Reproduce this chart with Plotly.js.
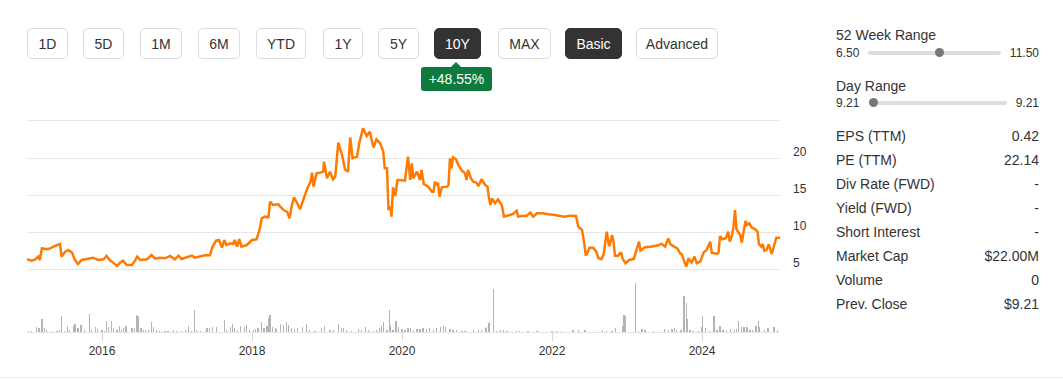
<!DOCTYPE html>
<html>
<head>
<meta charset="utf-8">
<script src="https://cdn.plot.ly/plotly-3.0.1.min.js"></script>
<style>
  html, body { margin:0; padding:0; background:#fff; width:1063px; height:379px; overflow:hidden;
    font-family: "Liberation Sans", Arial, sans-serif; color:#333; }
  #chart { position:absolute; left:0; top:0; width:830px; height:379px; }
  .btn { position:absolute; top:28px; height:31px; border:1px solid #dcdcdc; border-radius:5px;
    box-sizing:border-box; font-size:14px; line-height:31px; text-align:center; color:#333; background:#fff; }
  .btn.on { background:#333; border-color:#333; color:#fff; }
  .badge { position:absolute; left:421px; top:67px; width:71px; height:24px; background:#0d7a3e; color:#fff;
    border-radius:3px; font-size:14px; line-height:24px; text-align:center; }
  .badge:before { content:""; position:absolute; left:30px; top:-5px; border-left:5px solid transparent;
    border-right:5px solid transparent; border-bottom:5px solid #0d7a3e; }
  .lbl { position:absolute; left:836px; font-size:14px; line-height:16px; color:#333; white-space:nowrap; }
  .val { position:absolute; right:24px; font-size:14px; line-height:16px; color:#333; text-align:right; white-space:nowrap; }
  .small { position:absolute; font-size:12px; line-height:14px; color:#333; white-space:nowrap; }
  .track { position:absolute; height:4px; background:#dddddd; border-radius:2px; }
  .knob { position:absolute; width:9px; height:9px; border-radius:50%; background:#777; }
  .bottomline { position:absolute; left:0; top:377px; width:1063px; height:1px; background:#eeeeee; }
</style>
</head>
<body>
<div id="chart"></div>
<div id="buttons"></div>
<div class="badge">+48.55%</div>
<div id="panel"></div>
<div class="bottomline"></div>
<script>
// ---- data ----
const rangeButtons = ["1D","5D","1M","6M","YTD","1Y","5Y","10Y","MAX","Basic","Advanced"];
const activeButtons = ["10Y","Basic"];
const yearTicks = [2016, 2018, 2020, 2022, 2024];
const priceTicks = [5, 10, 15, 20, 25];
const priceTickText = ["5", "10", "15", "20", ""];

const priceYears = [
2015.00,2015.06,2015.11,2015.15,2015.17,2015.20,2015.26,2015.31,2015.35,2015.42,2015.44,2015.46,2015.51,2015.55,2015.60,2015.64,2015.68,2015.73,2015.80,2015.88,2015.95,
2016.02,2016.06,2016.11,2016.15,2016.20,2016.24,2016.28,2016.33,2016.40,2016.44,2016.47,2016.51,2016.60,2016.66,2016.71,2016.77,2016.84,2016.91,2016.97,
2017.02,2017.06,2017.13,2017.20,2017.24,2017.31,2017.37,2017.44,2017.47,2017.52,2017.56,2017.60,2017.63,2017.66,2017.71,2017.75,2017.77,2017.80,2017.83,2017.86,2017.93,
2018.00,2018.06,2018.10,2018.13,2018.17,2018.22,2018.24,2018.28,2018.35,2018.42,2018.47,2018.50,2018.53,2018.56,2018.60,2018.64,2018.68,2018.73,2018.78,2018.80,2018.82,2018.86,2018.91,2018.95,2018.96,
2019.00,2019.04,2019.08,2019.11,2019.15,2019.20,2019.24,2019.28,2019.31,2019.34,2019.40,2019.43,2019.48,2019.53,2019.57,2019.62,2019.66,2019.71,2019.75,2019.77,2019.80,2019.82,2019.85,2019.86,2019.88,2019.91,2019.94,2019.97,
2020.04,2020.08,2020.11,2020.13,2020.15,2020.20,2020.24,2020.26,2020.29,2020.35,2020.40,2020.42,2020.44,2020.47,2020.48,2020.50,2020.53,2020.60,2020.62,2020.64,2020.66,2020.68,2020.72,2020.75,2020.80,2020.84,2020.86,2020.88,2020.92,2020.95,2020.99,
2021.02,2021.06,2021.11,2021.14,2021.16,2021.18,2021.20,2021.24,2021.28,2021.33,2021.36,2021.42,2021.48,2021.53,2021.55,2021.60,2021.66,2021.71,2021.75,2021.80,2021.88,2021.95,
2022.02,2022.11,2022.17,2022.24,2022.32,2022.35,2022.40,2022.43,2022.45,2022.47,2022.50,2022.55,2022.59,2022.62,2022.66,2022.69,2022.73,2022.76,2022.77,2022.80,2022.82,2022.84,2022.88,2022.92,2022.94,2022.98,
2023.03,2023.09,2023.13,2023.16,2023.18,2023.24,2023.31,2023.37,2023.42,2023.46,2023.51,2023.55,2023.58,2023.63,2023.67,2023.71,2023.73,2023.76,2023.79,2023.82,2023.86,2023.90,2023.93,2023.98,
2024.02,2024.06,2024.11,2024.13,2024.20,2024.22,2024.24,2024.27,2024.32,2024.35,2024.37,2024.40,2024.42,2024.44,2024.46,2024.51,2024.53,2024.55,2024.58,2024.60,2024.63,2024.66,2024.71,2024.74,2024.76,2024.79,2024.81,2024.83,2024.86,2024.89,2024.91,2024.93,2024.96,2024.99,2025.04
];
const priceValues = [
6.31,6.13,6.31,6.67,6.22,7.79,7.66,7.79,8.02,8.24,8.38,6.67,7.34,7.57,7.21,6.22,5.68,6.22,6.35,6.53,6.22,
6.31,6.76,6.13,5.86,5.41,5.86,6.13,5.54,5.54,6.13,6.67,6.22,6.31,6.89,6.40,6.53,6.44,6.76,6.31,
6.80,6.35,6.58,6.80,6.53,6.76,6.85,6.85,7.93,8.83,8.92,7.88,8.92,8.24,8.47,8.38,8.92,8.02,9.05,8.02,8.24,
8.92,9.01,10.27,11.85,12.07,11.98,14.10,13.65,13.74,12.97,12.70,11.85,13.51,14.68,13.96,13.06,14.23,15.68,16.80,18.02,16.13,17.93,18.02,18.15,19.50,
17.25,18.15,17.12,17.48,22.07,20.41,18.47,18.15,22.79,19.95,20.18,21.98,24.01,22.97,23.56,21.44,22.52,21.98,20.86,18.60,18.60,12.97,13.42,12.07,16.04,14.86,17.03,17.03,
16.94,20.18,17.03,19.28,17.25,18.15,17.03,18.38,16.49,16.13,15.45,15.45,16.80,16.35,16.67,14.77,16.04,16.13,16.35,19.95,18.60,20.09,19.82,19.05,18.29,17.93,17.03,18.38,17.25,16.80,16.67,
16.22,17.12,16.35,16.13,14.55,13.65,14.55,13.87,14.41,13.65,12.07,12.30,12.43,12.88,12.07,12.16,12.16,12.61,12.07,12.52,12.52,12.39,
12.34,12.16,12.07,12.21,12.16,10.72,10.27,8.47,6.80,7.12,7.88,7.88,7.34,6.44,6.31,7.03,10.05,8.11,8.24,9.59,8.69,6.80,6.80,7.25,6.44,5.77,
6.22,6.35,7.57,8.69,7.48,7.93,8.02,8.15,8.20,8.42,8.02,9.14,8.33,8.02,7.79,7.12,6.98,6.13,5.32,6.44,5.86,6.67,5.77,6.04,
7.21,7.57,8.69,7.21,7.03,7.21,9.46,9.01,9.19,10.05,8.69,9.59,10.72,12.97,10.36,9.59,8.56,9.73,11.49,10.95,11.17,10.63,10.36,10.05,8.38,8.02,8.38,7.48,7.57,8.33,7.57,7.03,8.11,9.23,9.23
];

const volumeYears = [
2015.02,2015.06,2015.13,2015.16,2015.20,2015.23,2015.26,2015.33,2015.40,2015.43,2015.46,2015.50,2015.54,2015.57,2015.62,2015.64,2015.68,2015.71,2015.73,2015.77,2015.83,2015.86,2015.91,2015.94,
2016.00,2016.03,2016.06,2016.09,2016.13,2016.15,2016.20,2016.23,2016.26,2016.29,2016.32,2016.40,2016.43,2016.46,2016.48,2016.52,2016.55,2016.58,2016.62,2016.66,2016.69,2016.73,2016.77,2016.84,2016.88,2016.95,2016.99,
2017.06,2017.11,2017.15,2017.19,2017.23,2017.26,2017.31,2017.40,2017.43,2017.47,2017.53,2017.63,2017.66,2017.71,2017.74,2017.77,2017.81,2017.85,2017.90,2017.93,2017.97,
2018.02,2018.05,2018.08,2018.13,2018.16,2018.20,2018.22,2018.24,2018.27,2018.31,2018.33,2018.38,2018.42,2018.46,2018.49,2018.53,2018.57,2018.61,2018.67,2018.73,2018.77,2018.84,2018.93,2018.97,
2019.04,2019.09,2019.15,2019.19,2019.22,2019.26,2019.33,2019.42,2019.46,2019.51,2019.55,2019.62,2019.66,2019.70,2019.73,2019.75,2019.80,2019.83,2019.85,2019.88,2019.92,2019.95,
2020.00,2020.04,2020.08,2020.11,2020.15,2020.20,2020.24,2020.28,2020.33,2020.37,2020.42,2020.46,2020.51,2020.55,2020.58,2020.64,2020.68,2020.73,2020.80,2020.84,2020.95,
2021.02,2021.06,2021.11,2021.13,2021.15,2021.17,2021.22,2021.26,2021.31,2021.35,2021.40,2021.53,2021.57,2021.68,2021.80,
2022.00,2022.06,2022.13,2022.28,2022.35,2022.44,2022.67,2022.73,2022.80,2022.85,2022.94,2022.96,2022.98,
2023.11,2023.15,2023.20,2023.24,2023.35,2023.50,2023.55,2023.60,2023.63,2023.66,2023.72,2023.76,2023.79,2023.81,2023.84,2023.88,2023.95,2023.99,
2024.01,2024.05,2024.10,2024.16,2024.20,2024.24,2024.28,2024.33,2024.38,2024.43,2024.46,2024.49,2024.53,2024.56,2024.60,2024.64,2024.67,2024.72,2024.75,2024.77,2024.83,2024.88,2024.96,2025.01
];
const volumeValues = [
1.3,1.3,4.7,4.0,13.0,4.0,2.3,1.3,1.3,2.3,15.7,1.3,5.7,2.3,5.7,8.0,4.0,7.3,7.3,2.3,18.3,2.3,4.7,3.3,
2.3,1.3,11.3,4.7,11.3,4.0,2.3,5.7,2.3,4.0,5.7,4.0,4.0,16.7,16.3,4.0,2.3,2.3,2.3,9.7,4.7,2.3,1.3,1.3,1.3,2.3,1.3,
1.3,2.3,5.7,1.3,21.7,2.3,1.3,4.0,4.0,4.7,4.7,11.7,2.3,4.7,8.0,4.0,2.3,5.7,4.7,6.7,2.3,
2.3,3.3,4.0,9.7,4.0,5.7,14.0,16.7,4.7,4.0,3.3,8.0,6.7,9.7,7.3,4.0,3.3,4.0,4.7,8.0,2.3,1.3,4.0,5.7,
2.3,2.3,8.0,4.0,4.0,2.3,1.3,3.0,2.3,4.7,2.3,1.3,2.3,4.0,5.7,9.7,2.3,21.7,6.7,2.3,10.7,4.7,
3.3,2.3,4.0,4.0,2.3,3.3,3.3,4.0,3.3,4.0,2.3,4.0,4.7,5.7,4.7,3.0,2.3,2.0,1.3,1.3,1.7,
2.3,2.3,4.0,5.0,9.0,10.0,43.0,1.3,2.3,2.0,1.3,1.0,1.0,1.0,1.0,
1.0,1.0,1.0,2.0,1.7,2.0,1.7,1.3,1.3,4.0,5.7,17.3,15.7,
49.0,1.3,3.3,1.7,1.3,3.3,2.3,3.3,4.0,2.3,2.3,35.7,29.0,13.0,2.3,1.3,1.3,4.7,
15.7,4.0,1.3,15.7,2.3,5.7,2.3,1.3,3.3,2.3,3.3,10.7,4.7,4.7,4.7,2.3,2.3,5.7,10.7,4.7,2.3,4.0,4.7,2.3
];

const panelRows = [
  ["EPS (TTM)", "0.42"], ["PE (TTM)", "22.14"], ["Div Rate (FWD)", "-"], ["Yield (FWD)", "-"],
  ["Short Interest", "-"], ["Market Cap", "$22.00M"], ["Volume", "0"], ["Prev. Close", "$9.21"]
];

// ---- HTML controls ----
const btnLeft = [27, 83, 140, 198, 256, 323, 378, 434, 498, 565, 636];
const btnWidth = [41, 41, 42, 42, 50, 40, 41, 47, 53, 57, 82];
const bwrap = document.getElementById('buttons');
rangeButtons.forEach((t, i) => {
  const d = document.createElement('div');
  d.className = 'btn' + (activeButtons.includes(t) ? ' on' : '');
  d.style.left = btnLeft[i] + 'px';
  d.style.width = btnWidth[i] + 'px';
  d.textContent = t;
  bwrap.appendChild(d);
});

const panel = document.getElementById('panel');
function add(cls, text, style) {
  const d = document.createElement('div');
  d.className = cls; d.textContent = text || '';
  Object.assign(d.style, style); panel.appendChild(d); return d;
}
add('lbl', '52 Week Range', {top:'27px'});
add('small', '6.50', {left:'836px', top:'46px'});
add('track', '', {left:'868px', top:'51px', width:'133px'});
add('knob', '', {left:'935px', top:'48px'});
add('small', '11.50', {right:'24px', top:'46px', textAlign:'right'});
add('lbl', 'Day Range', {top:'78px'});
add('small', '9.21', {left:'836px', top:'96px'});
add('track', '', {left:'870px', top:'101px', width:'137px'});
add('knob', '', {left:'869px', top:'98px'});
add('small', '9.21', {right:'24px', top:'96px', textAlign:'right'});
panelRows.forEach((r, i) => {
  const top = (128 + i * 24) + 'px';
  add('lbl', r[0], {top});
  add('val', r[1], {top});
});

// ---- Plotly chart ----
const traces = [
  { type:'bar', x: volumeYears, y: volumeValues, yaxis:'y2', width:0.018,
    marker:{color:'#b4b4b4', line:{width:0}}, hoverinfo:'skip' },
  { type:'scatter', mode:'lines', x: priceYears, y: priceValues, yaxis:'y',
    line:{color:'#ff7a00', width:2.5}, hoverinfo:'skip' }
];
const layout = {
  width:830, height:379,
  margin:{l:27, r:50, t:115, b:47},
  paper_bgcolor:'rgba(0,0,0,0)', plot_bgcolor:'rgba(0,0,0,0)',
  showlegend:false, bargap:0,
  font:{family:'"Liberation Sans", Arial, sans-serif', color:'#333', size:12},
  xaxis:{ range:[2015.0, 2025.04], tickvals:yearTicks, ticktext:yearTicks.map(String),
    ticks:'outside', ticklen:8, tickcolor:'#d6d6d6', tickwidth:1,
    showgrid:false, zeroline:false, showline:true, linecolor:'#e3e3e3', linewidth:1,
    anchor:'y2', tickfont:{size:12, color:'#333'} },
  yaxis:{ domain:[0.2627, 1], range:[4.19, 25.81], side:'right',
    tickvals:priceTicks, ticktext:priceTickText, gridcolor:'#e6e6e6', gridwidth:1,
    zeroline:false, showline:false, ticks:'', ticklabelstandoff:12, ticklabelshift:-6,
    tickfont:{size:12, color:'#333'} },
  yaxis2:{ domain:[0, 0.2304], range:[0, 50], visible:false, showgrid:false, zeroline:false }
};
Plotly.newPlot('chart', traces, layout, {displayModeBar:false, staticPlot:true});
</script>
</body>
</html>
